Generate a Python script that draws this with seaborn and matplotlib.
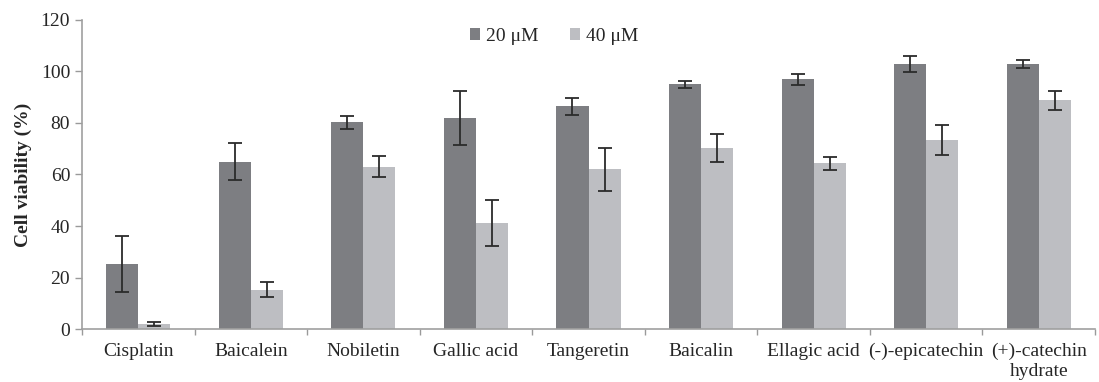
import numpy as np
import pandas as pd
import matplotlib
matplotlib.use("Agg")
import matplotlib.pyplot as plt
import seaborn as sns
from matplotlib.ticker import FixedLocator

# Data
compounds = ["Cisplatin", "Baicalein", "Nobiletin", "Gallic acid", "Tangeretin",
             "Baicalin", "Ellagic acid", "(-)-epicatechin", "(+)-catechin\nhydrate"]
viab_20 = [25.3, 65.0, 80.2, 82.0, 86.5, 95.0, 97.0, 102.9, 102.9]
err_20 = [10.8, 7.3, 2.5, 10.5, 3.3, 1.4, 2.2, 3.2, 1.6]
viab_40 = [2.0, 15.3, 63.0, 41.2, 62.0, 70.4, 64.3, 73.4, 88.8]
err_40 = [0.7, 3.0, 4.0, 9.0, 8.4, 5.4, 2.4, 5.9, 3.6]
doses = ["20 \u03bcM", "40 \u03bcM"]

df = pd.DataFrame({
    "compound": compounds * 2,
    "dose": [doses[0]] * len(compounds) + [doses[1]] * len(compounds),
    "viability": viab_20 + viab_40,
    "err": err_20 + err_40,
})

sns.set_style("white")
plt.rcParams["font.family"] = ["Liberation Serif", "DejaVu Serif"]

fig = plt.figure(figsize=(10.99, 3.82), dpi=100)
ax = fig.add_axes([0.0746, 0.1387, 0.9218, 0.809])

palette = {doses[0]: "#7d7e82", doses[1]: "#bdbec2"}
sns.barplot(data=df, x="compound", y="viability", hue="dose", order=compounds,
            hue_order=doses, palette=palette, width=0.57, errorbar=None,
            saturation=1, linewidth=0, ax=ax, legend=True)

# error bars at bar centres
bars = [p for p in ax.patches if p.get_height() > 0]
for dose, bar_group in zip(doses, [bars[:len(compounds)], bars[len(compounds):]]):
    errs = df.loc[df["dose"] == dose, "err"].values
    xs = [b.get_x() + b.get_width() / 2 for b in bar_group]
    ys = [b.get_height() for b in bar_group]
    ax.errorbar(xs, ys, yerr=errs, fmt="none", ecolor="#2b2b2b",
                elinewidth=1.3, capsize=5, capthick=1.3)

ax.set_ylim(0, 120)
ax.set_yticks(range(0, 121, 20))
ax.set_xlim(-0.5, len(compounds) - 0.5)
ax.set_xlabel("")
ax.set_ylabel("Cell viability (%)", fontsize=14, fontweight="bold", labelpad=6)

# category labels centred, tick marks at boundaries
ax.xaxis.set_major_locator(FixedLocator(np.arange(len(compounds))))
ax.set_xticklabels(compounds, fontsize=14)
ax.xaxis.set_minor_locator(FixedLocator(np.arange(len(compounds) + 1) - 0.5))
ax.tick_params(axis="x", which="major", length=0, pad=10)
ax.tick_params(axis="x", which="minor", length=4, width=1, color="#9a9a9a",
               direction="out", bottom=True)
ax.tick_params(axis="y", length=5, width=1, color="#9a9a9a", direction="out",
               labelsize=14, left=True)

for s in ["top", "right"]:
    ax.spines[s].set_visible(False)
for s in ["left", "bottom"]:
    ax.spines[s].set_color("#a0a0a0")
    ax.spines[s].set_linewidth(1.2)

ax.legend(loc="upper center", bbox_to_anchor=(0.466, 1.03), ncol=2, frameon=False,
          fontsize=14, handlelength=0.55, handleheight=0.55, handletextpad=0.3,
          columnspacing=1.6)

fig.savefig("out.png", dpi=100)
plt.close("all")
